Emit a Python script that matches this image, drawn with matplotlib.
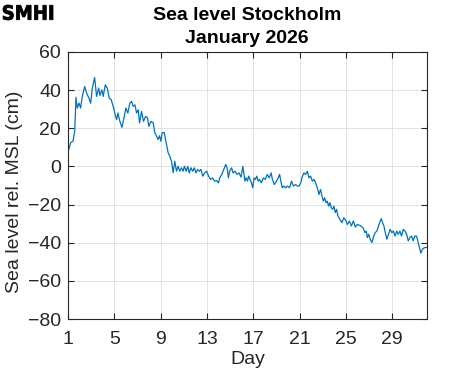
import numpy as np
import matplotlib.pyplot as plt
from matplotlib.textpath import TextPath
from matplotlib.patches import PathPatch
from matplotlib.font_manager import FontProperties
from matplotlib.transforms import Affine2D

# sea level readings (day of month, cm rel. MSL)
days = [1.0, 1.1, 1.23, 1.43, 1.58, 1.69, 1.8, 1.95, 2.09, 2.23, 2.44, 2.61, 2.81, 2.96,
        3.1, 3.3, 3.47, 3.65, 3.76, 3.93, 4.04, 4.22, 4.39, 4.56, 4.73, 4.9, 5.08, 5.2,
        5.31, 5.48, 5.66, 5.83, 6.0, 6.17, 6.34, 6.49, 6.63, 6.78, 6.92, 7.06, 7.18, 7.35,
        7.52, 7.7, 7.87, 7.98, 8.16, 8.36, 8.5, 8.65, 8.78, 8.9, 9.02, 9.13, 9.3, 9.42,
        9.53, 9.65, 9.79, 9.94, 10.08, 10.22, 10.37, 10.51, 10.66, 10.8, 10.94, 11.05,
        11.2, 11.34, 11.48, 11.62, 11.77, 11.91, 12.05, 12.2, 12.34, 12.48, 12.63, 12.8,
        12.97, 13.14, 13.31, 13.48, 13.66, 13.83, 14.0, 14.1, 14.28, 14.45, 14.62, 14.74,
        14.85, 14.96, 15.13, 15.25, 15.42, 15.6, 15.77, 15.94, 16.1, 16.18, 16.27, 16.39,
        16.5, 16.6, 16.72, 16.84, 16.95, 17.07, 17.18, 17.3, 17.42, 17.53, 17.7, 17.87,
        18.04, 18.2, 18.37, 18.54, 18.65, 18.82, 19.0, 19.15, 19.27, 19.38, 19.5, 19.62,
        19.79, 19.96, 20.13, 20.3, 20.47, 20.65, 20.82, 20.95, 21.1, 21.24, 21.38, 21.52,
        21.67, 21.81, 21.95, 22.1, 22.24, 22.38, 22.53, 22.67, 22.81, 22.93, 23.05, 23.16,
        23.28, 23.39, 23.5, 23.62, 23.73, 23.85, 23.96, 24.08, 24.19, 24.31, 24.48, 24.65,
        24.82, 25.0, 25.13, 25.3, 25.47, 25.64, 25.81, 25.98, 26.15, 26.28, 26.47, 26.64,
        26.75, 26.85, 26.97, 27.1, 27.25, 27.4, 27.53, 27.67, 27.82, 27.96, 28.05, 28.16,
        28.28, 28.4, 28.53, 28.67, 28.82, 28.96, 29.1, 29.24, 29.38, 29.52, 29.66, 29.8,
        29.95, 30.1, 30.24, 30.38, 30.52, 30.67, 30.8, 30.95, 31.1, 31.24, 31.38, 31.47,
        31.6, 31.82, 31.95]
level = [8.0, 9.5, 12.5, 13.2, 18.4, 36.2, 30.6, 33.2, 30.6, 36.7, 41.9, 38.4, 35.8, 33.2,
         41.1, 46.6, 36.7, 41.1, 37.2, 40.2, 36.7, 42.8, 41.1, 35.8, 35.0, 31.5, 27.1, 24.5,
         28.0, 23.6, 20.5, 25.4, 30.6, 28.0, 33.2, 34.1, 31.5, 32.3, 28.0, 29.7, 22.8, 28.8,
         23.6, 26.2, 25.4, 21.0, 23.6, 22.8, 17.6, 15.8, 14.1, 16.1, 13.2, 17.6, 17.9, 14.1,
         10.6, 7.1, 5.3, 2.7, -3.3, 2.7, -2.5, 0.1, -2.5, -0.7, -2.5, 0.1,
         -2.5, 0.0, -3.4, -0.7, -2.5, -0.7, -3.4, -1.6, -2.5, -1.6, -5.1, -3.4,
         -2.5, -5.1, -6.8, -6.0, -7.7, -7.4, -8.6, -6.0, -4.2, -1.6, 1.0, -0.7,
         -6.0, -2.5, -0.7, -3.4, -2.5, -4.2, -3.4, -5.6, 0.0, -3.4, -7.7, -6.0,
         -7.7, -5.1, -6.8, -8.6, -11.2, -6.0, -6.8, -5.1, -7.7, -6.8, -8.6, -6.0,
         -6.8, -4.2, -6.0, -3.4, -6.8, -9.5, -7.7, -6.0, -4.2, -7.7, -11.2, -10.3,
         -11.2, -10.3, -11.2, -7.7, -10.3, -9.5, -10.3, -10.3, -8.6, -5.1, -3.4, -4.2,
         -2.5, -6.0, -5.1, -7.7, -6.8, -8.6, -11.2, -14.7, -12.1, -15.6, -18.2, -16.4,
         -19.0, -18.2, -20.8, -19.0, -21.6, -22.5, -20.8, -24.2, -22.5, -26.0, -27.7, -29.5,
         -26.9, -28.5, -30.4, -28.6, -31.2, -28.6, -31.8, -30.4, -30.8, -31.2, -32.1, -34.7,
         -33.9, -37.3, -35.6, -38.2, -39.9, -36.5, -34.7, -33.9, -31.2, -28.6, -27.4, -29.5,
         -31.2, -34.7, -38.2, -35.6, -33.0, -34.7, -33.9, -36.5, -33.9, -35.6, -33.9, -36.5,
         -33.0, -33.9, -35.6, -39.0, -37.3, -36.5, -39.0, -36.5, -36.5, -39.9, -43.4, -45.5,
         -43.4, -42.5, -42.5]

xticks = [1, 5, 9, 13, 17, 21, 25, 29]
yticks = [-80, -60, -40, -20, 0, 20, 40, 60]

axis_col = '#262626'
plt.rcParams['font.family'] = ['Liberation Sans', 'DejaVu Sans']

fig = plt.figure(figsize=(4.71, 3.71), dpi=100)
ax = fig.add_axes([68 / 471, 52 / 371, 359 / 471, 267 / 371])

ax.plot(days, level, color='#0072BD', linewidth=0.9)

ax.set_xlim(1, 32)
ax.set_ylim(-80, 60)
ax.set_xticks(xticks)
ax.set_yticks(yticks)
ax.set_yticklabels([str(v).replace('-', '\u2212') for v in yticks])
ax.grid(True, color='#dedede', linewidth=0.6)
ax.set_axisbelow(True)
ax.tick_params(direction='in', length=4, width=0.8, colors=axis_col,
               top=True, right=True, labelsize=14)
ax.tick_params(axis='x', pad=9)
ax.tick_params(axis='y', pad=5)
for s in ax.spines.values():
    s.set_color(axis_col)
    s.set_linewidth(0.8)

ax.set_xlabel('Day', fontsize=14, color=axis_col, labelpad=2)
ax.set_ylabel('Sea level rel. MSL (cm)', fontsize=14, color=axis_col)
ax.yaxis.set_label_coords(-0.125, 0.476)

fig.text(247 / 471, 1 - 27 / 371, 'Sea level Stockholm\nJanuary 2026',
         ha='center', va='center', fontsize=14, fontweight='bold',
         linespacing=1.4, color='black')

# SMHI logo as condensed heavy lettering, squeezed into its box (pixels)
logo = TextPath((0, 0), 'SMHI', size=1,
                prop=FontProperties(family='DejaVu Sans', weight='bold'))
ext = logo.get_extents()
x0, x1, ytop, ybot = 3, 53, 5, 20
sx = (x1 - x0) / ext.width
sy = (ybot - ytop) / ext.height
tr = Affine2D().translate(-ext.x0, -ext.y0).scale(sx, sy).translate(x0, 371 - ybot)
fig.add_artist(PathPatch(logo, transform=tr, facecolor='black', edgecolor='black',
                         linewidth=0.6))

fig.savefig('out.png', dpi=100)
